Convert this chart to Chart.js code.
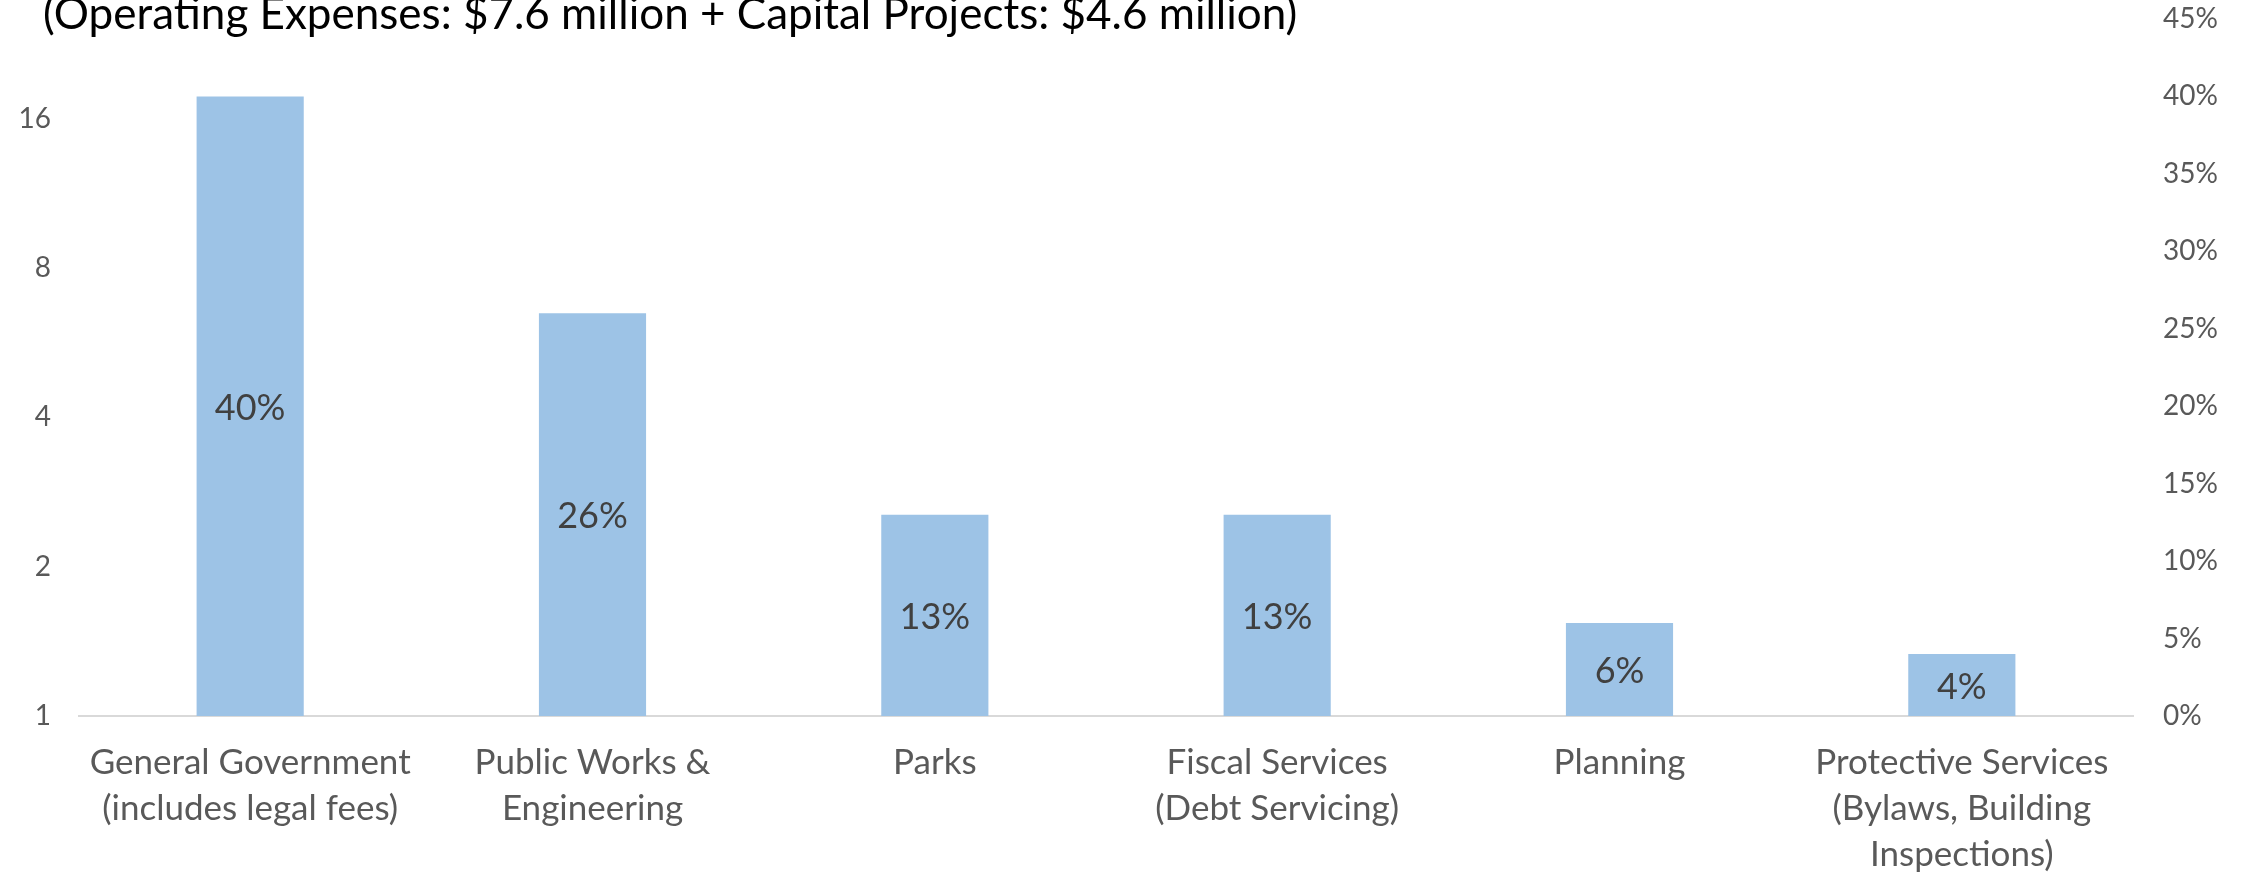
<!DOCTYPE html>
<html>
<head>
<meta charset="utf-8">
<script src="https://cdn.jsdelivr.net/npm/chart.js@4.4.1/dist/chart.umd.min.js"></script>
<style>
    html, body { margin: 0; padding: 0; background: #fff; overflow: hidden; }
    #wrap { position: relative; width: 2244px; height: 875px; }
</style>
</head>
<body>
<div id="wrap"><canvas id="chart"></canvas></div>
<script>
const titleText = '(Operating Expenses: $7.6 million + Capital Projects: $4.6 million)';

const categories = [
    ['General Government', '(includes legal fees)'],
    ['Public Works &', 'Engineering'],
    ['Parks'],
    ['Fiscal Services', '(Debt Servicing)'],
    ['Planning'],
    ['Protective Services', '(Bylaws, Building', 'Inspections)']
];

// share of total spending, percent
const shareValues = [40, 26, 13, 13, 6, 4];

// left axis (log, base 2) tick labels
const leftTicks = [1, 2, 4, 8, 16];

const fontFamily = 'Lato, "Open Sans", sans-serif';

// Title sits at the top edge, partly clipped like the original
const titlePlugin = {
    id: 'topTitle',
    afterDraw(chart) {
        const ctx = chart.ctx;
        ctx.save();
        ctx.font = '44px ' + fontFamily;
        ctx.fillStyle = '#000';
        ctx.textAlign = 'left';
        ctx.textBaseline = 'alphabetic';
        ctx.fillText(titleText, 43, 29);
        ctx.restore();
    }
};

// Percent labels centred inside each bar
const barLabels = {
    id: 'barLabels',
    afterDatasetsDraw(chart) {
        const ctx = chart.ctx;
        const meta = chart.getDatasetMeta(0);
        ctx.save();
        ctx.font = '36px ' + fontFamily;
        ctx.fillStyle = '#404040';
        ctx.textAlign = 'center';
        ctx.textBaseline = 'middle';
        meta.data.forEach((bar, i) => {
            const mid = (bar.y + bar.base) / 2;
            ctx.fillText(shareValues[i] + '%', bar.x, mid + 2);
        });
        ctx.restore();
    }
};

// the y axes may overflow the plot area with their end labels
function noEndPadding(axis, width) {
    axis.width = width;
    axis.paddingTop = 0;
    axis.paddingBottom = 0;
}

new Chart(document.getElementById('chart'), {
    type: 'bar',
    data: {
        labels: categories,
        datasets: [{
            data: shareValues,
            yAxisID: 'yRight',
            backgroundColor: '#9DC3E6',
            borderWidth: 0,
            barPercentage: 0.313,
            categoryPercentage: 1
        }]
    },
    options: {
        responsive: true,
        maintainAspectRatio: false,
        animation: false,
        layout: { padding: { top: 19, left: 0, right: 0, bottom: 0 } },
        plugins: {
            legend: { display: false },
            tooltip: { enabled: false }
        },
        scales: {
            x: {
                offset: true,
                grid: { display: false, drawTicks: false },
                border: { display: true, color: '#D9D9D9', width: 2 },
                ticks: {
                    color: '#595959',
                    padding: 24,
                    maxRotation: 0,
                    autoSkip: false,
                    font: { family: fontFamily, size: 35, lineHeight: 1.31 }
                },
                afterFit(axis) { axis.height = 159; }
            },
            yLeft: {
                type: 'logarithmic',
                position: 'left',
                min: 1,
                max: 25.4,
                grid: { display: false, drawTicks: false },
                border: { display: false },
                afterBuildTicks(axis) {
                    axis.ticks = leftTicks.map(v => ({ value: v }));
                },
                ticks: {
                    color: '#595959',
                    padding: 28,
                    font: { family: fontFamily, size: 28 },
                    callback: (v) => String(v)
                },
                afterFit(axis) { noEndPadding(axis, 79); }
            },
            yRight: {
                type: 'linear',
                position: 'right',
                min: 0,
                max: 45,
                grid: { display: false, drawTicks: false },
                border: { display: false },
                ticks: {
                    stepSize: 5,
                    color: '#595959',
                    padding: 30,
                    font: { family: fontFamily, size: 28 },
                    callback: (v) => v + '%'
                },
                afterFit(axis) { noEndPadding(axis, 111); }
            }
        }
    },
    plugins: [barLabels, titlePlugin]
});
</script>
</body>
</html>
